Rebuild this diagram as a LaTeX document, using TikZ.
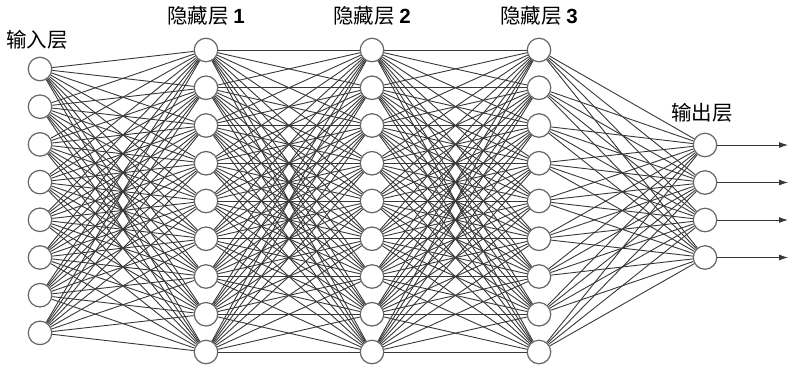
\documentclass[tikz,border=0pt]{standalone}
\usepackage{fontspec}
\setmainfont{Liberation Sans}
\newfontfamily\cjk{Noto Sans CJK SC}
\usetikzlibrary{arrows.meta}
\begin{document}
\begin{tikzpicture}[x=1pt,y=-1pt,
  neuron/.style={circle,draw=black!60,fill=white,line width=1.2pt,minimum size=23.5pt,inner sep=0pt},
  conn/.style={draw=black!78,line width=0.9pt},
  lbl/.style={font=\cjk\fontsize{20.5}{20.5}\selectfont,inner sep=0pt}]
\useasboundingbox (0,0) rectangle (792,365);
\foreach \i in {1,...,8} \node[neuron] (a\i) at (40,{69+(\i-1)*37.7}) {};
\foreach \i in {1,...,9} {
  \node[neuron] (b\i) at (206,{50+(\i-1)*37.75}) {};
  \node[neuron] (c\i) at (372,{50+(\i-1)*37.75}) {};
  \node[neuron] (d\i) at (539,{50+(\i-1)*37.75}) {};
}
\foreach \i in {1,...,4} {
  \node[neuron] (e\i) at (705,{145+(\i-1)*37.5}) {};
  \coordinate (o\i) at (788,{145+(\i-1)*37.5});
}
\foreach \i in {1,...,8} \foreach \j in {1,...,9} \draw[conn] (a\i) -- (b\j);
\foreach \i in {1,...,9} \foreach \j in {1,...,9} {
  \draw[conn] (b\i) -- (c\j);
  \draw[conn] (c\i) -- (d\j);
}
\foreach \i in {1,...,9} \foreach \j in {1,...,4} \draw[conn] (d\i) -- (e\j);
\foreach \i in {1,...,4} \draw[conn,-{Latex[length=9pt,width=6pt]}] (e\i) -- (o\i);
\node[lbl] (l0) at (37,40) {输入层};
\node[lbl] (l1) at (206,16) {隐藏层 {\fontspec{Liberation Sans}\bfseries 1}};
\node[lbl] (l2) at (372,16) {隐藏层 {\fontspec{Liberation Sans}\bfseries 2}};
\node[lbl] (l3) at (539,16) {隐藏层 {\fontspec{Liberation Sans}\bfseries 3}};
\node[lbl] (l4) at (702,113) {输出层};
\end{tikzpicture}
\end{document}
